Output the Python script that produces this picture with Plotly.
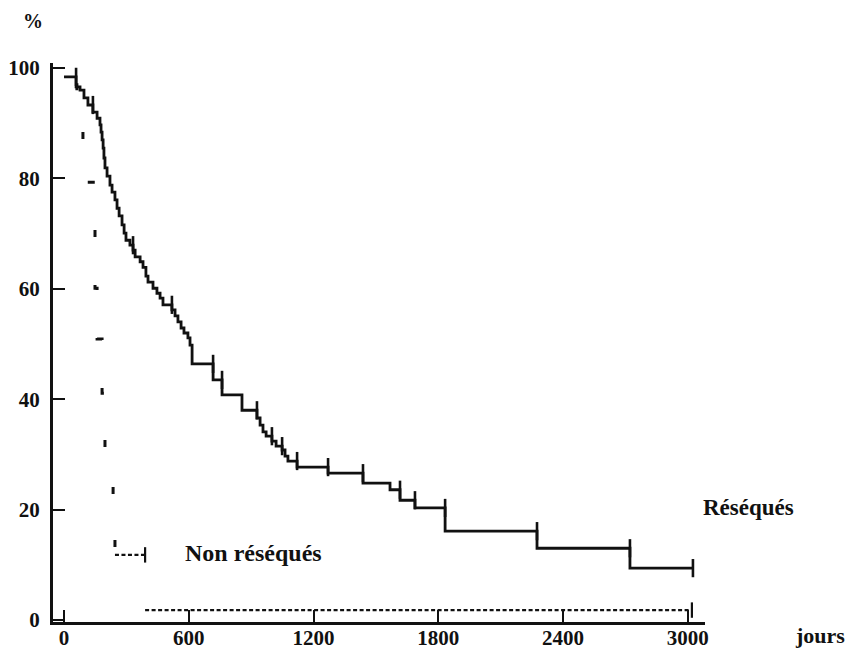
import plotly.graph_objects as go

# Axis tick values
x_ticks = [0, 600, 1200, 1800, 2400, 3000]
y_ticks = [0, 20, 40, 60, 80, 100]

# Réséqués: Kaplan-Meier survival (day of each drop, survival % after it)
res_days = [0, 58, 77, 96, 115, 139, 159, 173, 178, 183, 188, 192, 197, 207,
            221, 231, 245, 255, 265, 279, 289, 298, 317, 332, 342, 366, 380,
            394, 404, 428, 447, 462, 476, 519, 534, 548, 563, 577, 596, 606,
            616, 717, 760, 856, 928, 943, 957, 972, 1000, 1020, 1049, 1063,
            1077, 1121, 1270, 1438, 1568, 1616, 1688, 1833, 2275, 2722, 3025]
res_surv = [98.4, 96.6, 96.0, 94.6, 93.3, 92.0, 90.9, 89.7, 88.4, 87.0, 85.5,
            83.7, 81.9, 80.4, 78.8, 77.5, 76.1, 74.6, 73.2, 71.6, 70.1, 68.8,
            67.9, 67.0, 65.8, 64.9, 63.9, 62.3, 61.2, 60.1, 59.2, 58.3, 57.1,
            56.2, 55.1, 54.0, 52.9, 52.0, 51.1, 49.8, 46.4, 43.5, 40.8, 38.0,
            36.6, 35.3, 34.1, 33.3, 32.4, 31.5, 30.8, 29.7, 28.8, 27.7, 26.6,
            24.8, 23.6, 21.7, 20.3, 16.1, 13.0, 9.4, 9.4]
# Days carrying a vertical tick on the resected curve
res_tick_days = [58, 139, 332, 519, 717, 760, 928, 1000, 1049, 1121, 1270,
                 1438, 1616, 1688, 1833, 2275, 2722, 3025]

# Non réséqués: survival (day, %)
non_days = [0, 62, 91, 149, 159, 183, 197, 236, 245, 390, 3020]
non_surv = [100, 89.3, 79.3, 60.1, 50.9, 41.1, 31.3, 21.2, 11.8, 1.8, 1.8]
non_tick_days = [390, 3020]


def level_before(days, surv, t):
    """Survival level in force just before day t (left limit of the step)."""
    val = surv[0]
    for d, s in zip(days, surv):
        if d < t:
            val = s
    return val


INK = "#111111"
SERIF = "Liberation Serif"

fig = go.Figure()

# Resected curve
fig.add_trace(go.Scatter(
    x=res_days, y=res_surv, mode="lines", line_shape="hv",
    line=dict(color=INK, width=2.8), hoverinfo="skip", showlegend=False))
fig.add_trace(go.Scatter(
    x=res_tick_days,
    y=[level_before(res_days, res_surv, t) if t < res_days[-1] else res_surv[-1]
       for t in res_tick_days],
    mode="markers",
    marker=dict(symbol="line-ns", size=13, line=dict(color=INK, width=2.6)),
    hoverinfo="skip", showlegend=False))

# Non-resected curve: steep early fall (sparse dashes), then two plateaus
n_steep = non_days.index(245) + 1
fig.add_trace(go.Scatter(
    x=non_days[:n_steep], y=non_surv[:n_steep], mode="lines", line_shape="hv",
    line=dict(color=INK, width=3, dash="0px,28px,7px,20px"),
    hoverinfo="skip", showlegend=False))
plateau_x, plateau_y = [], []
for i in range(n_steep - 1, len(non_days) - 1):
    if non_surv[i] != non_surv[i + 1] or i == n_steep - 1:
        plateau_x += [non_days[i], non_days[i + 1], None]
        plateau_y += [non_surv[i], non_surv[i], None]
    else:
        plateau_x += [non_days[i], non_days[i + 1], None]
        plateau_y += [non_surv[i], non_surv[i + 1], None]
fig.add_trace(go.Scatter(
    x=plateau_x, y=plateau_y, mode="lines",
    line=dict(color=INK, width=2.4, dash="4px,2.5px"),
    hoverinfo="skip", showlegend=False))
fig.add_trace(go.Scatter(
    x=non_tick_days,
    y=[level_before(non_days, non_surv, t) if t < non_days[-1] else non_surv[-1]
       for t in non_tick_days],
    mode="markers",
    marker=dict(symbol="line-ns", size=11, line=dict(color=INK, width=2.2)),
    hoverinfo="skip", showlegend=False))

tick_font = dict(family=SERIF, size=21, color=INK, weight="bold")


def label(text, x, y, size, xref="paper", yref="paper", xanchor="center"):
    return dict(text="<b>%s</b>" % text, x=x, y=y, xref=xref, yref=yref,
                xanchor=xanchor, yanchor="middle", showarrow=False,
                font=dict(family=SERIF, size=size, color=INK))


fig.update_layout(
    width=850, height=655,
    margin=dict(l=53, r=145, t=63, b=33, autoexpand=False),
    paper_bgcolor="white", plot_bgcolor="white",
    xaxis=dict(range=[-53, 3083], tickvals=x_ticks,
               ticktext=[str(v) for v in x_ticks],
               showgrid=False, zeroline=False, showline=True,
               linecolor=INK, linewidth=3, ticks="inside", ticklen=12,
               tickwidth=2.4, tickcolor=INK, automargin=False,
               ticklabelstandoff=-5, tickfont=tick_font),
    yaxis=dict(range=[-0.36, 100.91], tickvals=y_ticks,
               ticktext=[str(v) for v in y_ticks],
               showgrid=False, zeroline=False, showline=True,
               linecolor=INK, linewidth=3, ticks="inside", ticklen=12,
               tickwidth=2.4, tickcolor=INK, ticklabelstandoff=6,
               automargin=False, tickfont=tick_font),
    annotations=[
        label("%", -0.031, 1.075, 20),
        label("jours", 1.176, -0.025, 22),
        label("Réséqués", 1.066, 0.204, 23),
        label("Non réséqués", 572, 12.1, 24, xref="x", yref="y",
              xanchor="left"),
    ],
)

fig.write_html("out.html")
